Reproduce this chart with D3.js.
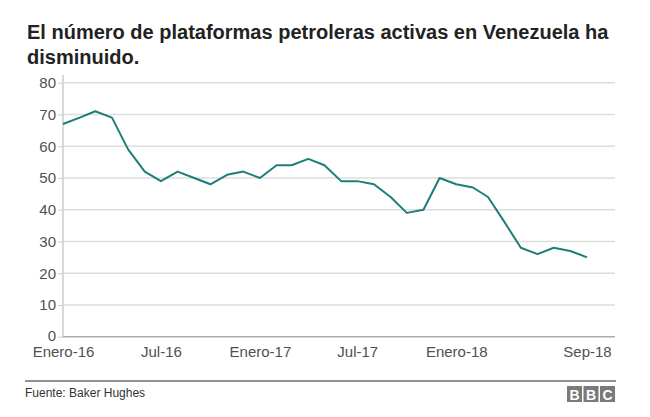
<html>
<head>
<meta charset="utf-8">
<script src="https://cdnjs.cloudflare.com/ajax/libs/d3/7.8.5/d3.min.js"></script>
<style>
  body { margin: 0; background: #fff; }
  text { font-family: "Liberation Sans", Arial, sans-serif; }
</style>
</head>
<body>
<svg id="chart" width="650" height="417"></svg>
<script>
// plataformas activas, mensual ene-2016 .. sep-2018
var startMonth = "2016-01";
var rigs = [67, 69, 71, 69, 59, 52, 49, 52, 50, 48, 51, 52,
            50, 54, 54, 56, 54, 49, 49, 48, 44, 39, 40, 50,
            48, 47, 44, 36, 28, 26, 28, 27, 25];
var yTicks = [0, 10, 20, 30, 40, 50, 60, 70, 80];
var xTickMonths = ["2016-01", "2016-07", "2017-01", "2017-07", "2018-01", "2018-09"];
var xTickLabels = ["Enero-16", "Jul-16", "Enero-17", "Jul-17", "Enero-18", "Sep-18"];

var parse = d3.timeParse("%Y-%m");
var t0 = parse(startMonth);
var data = rigs.map(function(v, i) {
    return { date: d3.timeMonth.offset(t0, i), value: v };
});

var svg = d3.select("#chart");
var plotLeft = 63, plotRight = 615, plotTop = 82.7, plotBottom = 336.7;

var x = d3.scaleTime()
    .domain([data[0].date, data[data.length - 1].date])
    .range([plotLeft, 587]);
var y = d3.scaleLinear().domain([0, 80]).range([plotBottom, plotTop]);

// titulo
svg.append("text")
    .attr("x", 27).attr("y", 39)
    .attr("font-size", "20px").attr("font-weight", "bold").attr("fill", "#222")
    .text("El número de plataformas petroleras activas en Venezuela ha");
svg.append("text")
    .attr("x", 27).attr("y", 64)
    .attr("font-size", "20px").attr("font-weight", "bold").attr("fill", "#222")
    .text("disminuido.");

// rejilla
svg.append("g").selectAll("line")
    .data(yTicks.filter(function(d) { return d > 0; }))
    .enter().append("line")
    .attr("x1", plotLeft).attr("x2", plotRight)
    .attr("y1", function(d) { return y(d); })
    .attr("y2", function(d) { return y(d); })
    .attr("stroke", "#dddddd").attr("stroke-width", 1.5);

// eje y
var yAxis = svg.append("g")
    .attr("transform", "translate(" + plotLeft + ",0)")
    .call(d3.axisLeft(y).tickValues(yTicks).tickSize(5).tickPadding(2));
yAxis.select(".domain").attr("stroke", "#cccccc").attr("stroke-width", 1.5)
    .attr("d", "M0," + plotBottom + "V75");
yAxis.selectAll(".tick line").attr("stroke", "#cccccc");
yAxis.selectAll(".tick text")
    .attr("font-size", "15px").attr("fill", "#505050")
    .attr("font-family", "Liberation Sans, Arial, sans-serif");
yAxis.selectAll(".tick text").filter(function(d) { return d === 0; })
    .attr("dy", "0.22em");

// linea base
svg.append("line")
    .attr("x1", plotLeft).attr("x2", plotRight)
    .attr("y1", y(0)).attr("y2", y(0))
    .attr("stroke", "#aaaaaa").attr("stroke-width", 1.5);

// eje x
var xAxis = svg.append("g")
    .attr("transform", "translate(0," + plotBottom + ")")
    .call(d3.axisBottom(x)
        .tickValues(xTickMonths.map(parse))
        .tickSize(0).tickPadding(10)
        .tickFormat(function(d, i) { return xTickLabels[i]; }));
xAxis.select(".domain").remove();
xAxis.selectAll(".tick text")
    .attr("font-size", "15px").attr("fill", "#505050")
    .attr("font-family", "Liberation Sans, Arial, sans-serif");

// serie
var line = d3.line()
    .x(function(d) { return x(d.date); })
    .y(function(d) { return y(d.value); });
svg.append("path")
    .datum(data)
    .attr("fill", "none")
    .attr("stroke", "#1b7f78")
    .attr("stroke-width", 2)
    .attr("stroke-linejoin", "round")
    .attr("d", line);

// pie
svg.append("line")
    .attr("x1", 25).attr("x2", 616).attr("y1", 381).attr("y2", 381)
    .attr("stroke", "#222").attr("stroke-width", 1);
svg.append("text")
    .attr("x", 25).attr("y", 397)
    .attr("font-size", "12px").attr("fill", "#333")
    .text("Fuente: Baker Hughes");

var bbc = svg.append("g").attr("transform", "translate(567,386)");
["B", "B", "C"].forEach(function(c, i) {
    bbc.append("rect")
        .attr("x", i * 16.5).attr("y", 0)
        .attr("width", 15).attr("height", 16)
        .attr("fill", "#7a7a7a");
    bbc.append("text")
        .attr("x", i * 16.5 + 7.5).attr("y", 13.5)
        .attr("text-anchor", "middle")
        .attr("font-size", "14px").attr("font-weight", "bold").attr("fill", "#fff")
        .text(c);
});
</script>
</body>
</html>
